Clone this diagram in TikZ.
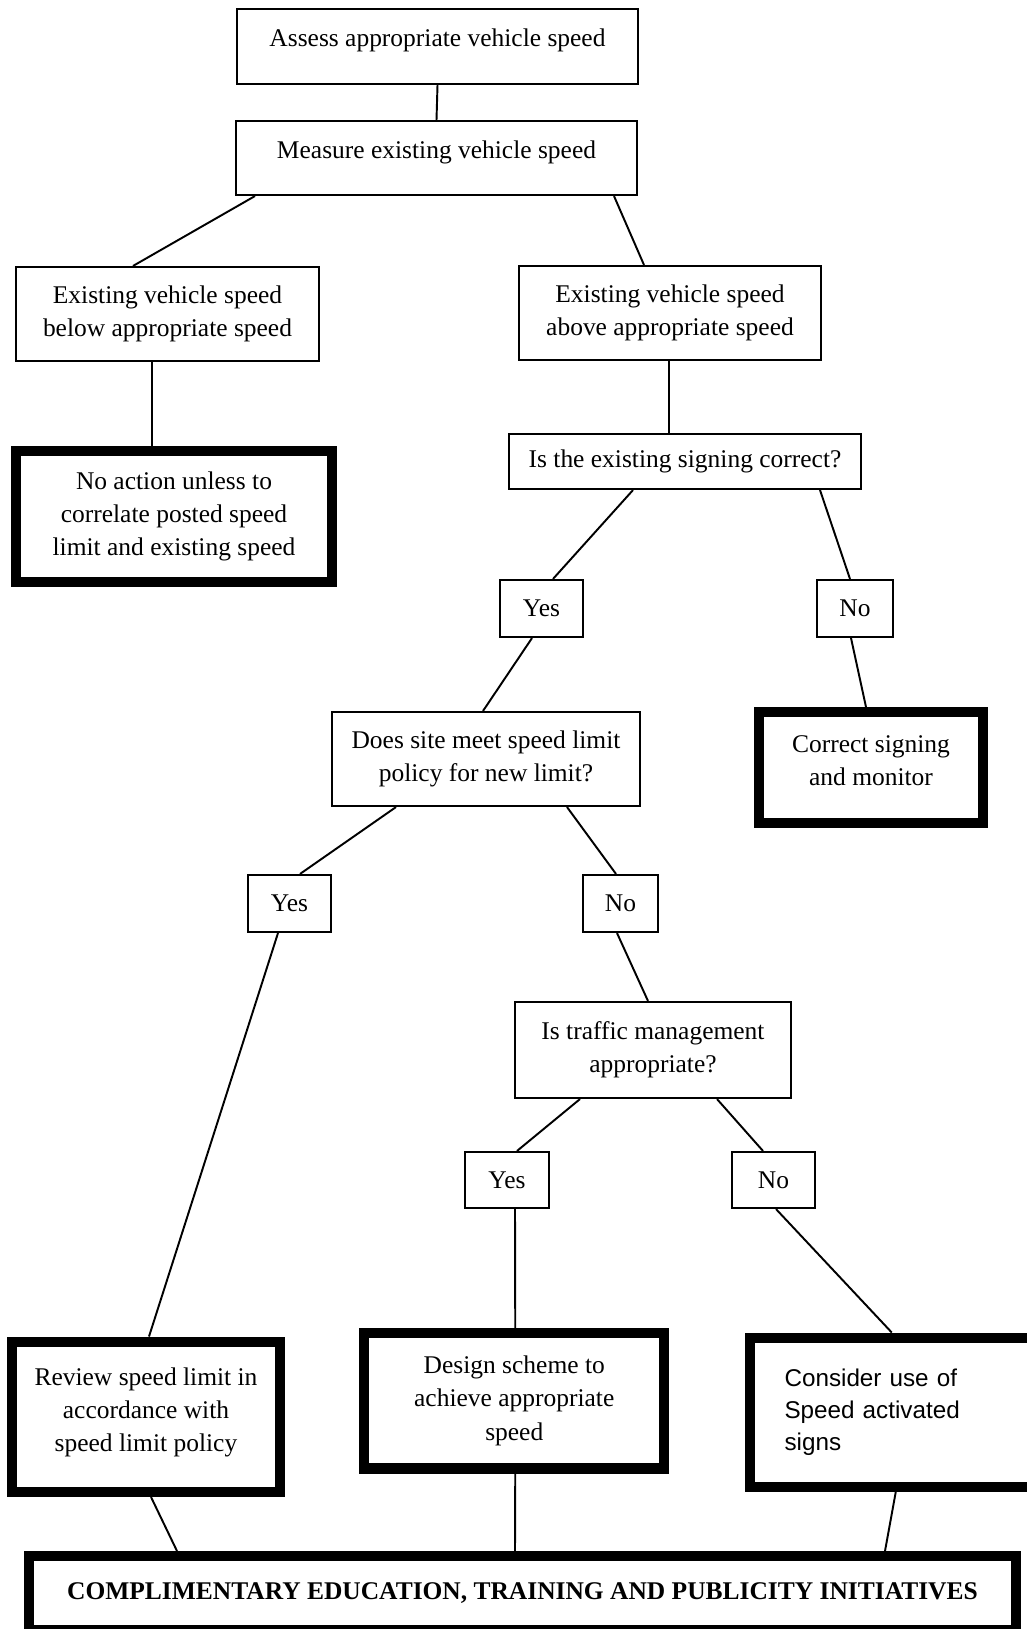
\documentclass[tikz,border=0pt]{standalone}
\usepackage{fontspec}
\setmainfont{Liberation Serif}
\newfontfamily\arialfont{Liberation Sans}
\usetikzlibrary{calc}
\tikzset{
  box/.style={draw, line width=1.2pt, fill=white, align=center, inner sep=4pt,
    font=\fontsize{14.5}{19}\selectfont},
  heavybox/.style={box, line width=5.7pt},
  link/.style={line width=1.1pt}
}
\begin{document}
\begin{tikzpicture}[x=0.02cm, y=-0.02cm]
\useasboundingbox (0,0) rectangle (1027,1629);
\node[box, minimum width=8.02cm, minimum height=1.5cm, text height=10pt, text depth=9.5pt] (assess) at (437.5,46.5) {Assess appropriate vehicle speed};
\node[box, minimum width=8.02cm, minimum height=1.48cm, text height=10pt, text depth=10pt] (measure) at (436.5,158) {Measure existing vehicle speed};
\node[box, minimum width=6.06cm, minimum height=1.88cm] (below) at (167.5,314) {Existing vehicle speed\\below appropriate speed};
\node[box, minimum width=6.04cm, minimum height=1.88cm] (above) at (670,313) {Existing vehicle speed\\above appropriate speed};
\node[heavybox, minimum width=6.31cm, minimum height=2.63cm] (noaction) at (174,516.5) {No action unless to\\correlate posted speed\\limit and existing speed};
\node[box, minimum width=7.04cm, minimum height=1.1cm] (signing) at (685,461.5) {Is the existing signing correct?};
\node[box, minimum width=1.66cm, minimum height=1.14cm] (yesA) at (541.5,608.5) {Yes};
\node[box, minimum width=1.52cm, minimum height=1.14cm] (noA) at (855,608.5) {No};
\node[box, minimum width=6.16cm, minimum height=1.88cm] (policy) at (486,759) {Does site meet speed limit\\policy for new limit?};
\node[heavybox, minimum width=4.5cm, minimum height=2.22cm, text depth=8pt] (correct) at (871,767.5) {Correct signing\\and monitor};
\node[box, minimum width=1.66cm, minimum height=1.14cm] (yesB) at (289.5,903.5) {Yes};
\node[box, minimum width=1.5cm, minimum height=1.14cm] (noB) at (620.5,903.5) {No};
\node[box, minimum width=5.52cm, minimum height=1.92cm] (traffic) at (653,1050) {Is traffic management\\appropriate?};
\node[box, minimum width=1.68cm, minimum height=1.12cm] (yesC) at (507,1180) {Yes};
\node[box, minimum width=1.66cm, minimum height=1.12cm] (noC) at (773.5,1180) {No};
\node[heavybox, minimum width=5.36cm, minimum height=3.01cm, text depth=8pt] (review) at (146,1416.75) {Review speed limit in\\accordance with\\speed limit policy};
\node[heavybox, minimum width=6.01cm, minimum height=2.71cm] (design) at (514.25,1400.75) {Design scheme to\\achieve appropriate\\speed};
\node[heavybox, minimum width=6.01cm, minimum height=2.99cm, align=left, inner xsep=0.7cm, text width=4.61cm,
  font=\arialfont\fontsize{13.8}{18}\selectfont] (consider) at (899.75,1412.25) {Consider use of\\Speed activated\\signs};
\node[heavybox, minimum width=19.74cm, minimum height=1.48cm, font=\bfseries\fontsize{14.5}{19}\selectfont] (bottom) at (522.5,1593) {COMPLIMENTARY EDUCATION, TRAINING AND PUBLICITY INITIATIVES};
\draw[link] (assess.south) -- (measure.north);
\draw[link] ($(measure.south)+(-181.5,0)$) -- ($(below.north)+(-34.5,0)$);
\draw[link] ($(measure.south)+(177.5,0)$) -- ($(above.north)+(-26,0)$);
\draw[link] ($(below.south)+(-15.5,0)$) -- ($(noaction.north)+(-22,0)$);
\draw[link] ($(above.south)+(-1,0)$) -- ($(signing.north)+(-16,0)$);
\draw[link] ($(signing.south)+(-52,0)$) -- ($(yesA.north)+(11.5,0)$);
\draw[link] ($(signing.south)+(135,0)$) -- ($(noA.north)+(-5,0)$);
\draw[link] ($(yesA.south)+(-9.5,0)$) -- ($(policy.north)+(-3,0)$);
\draw[link] ($(noA.south)+(-4,0)$) -- ($(correct.north)+(-5,0)$);
\draw[link] ($(policy.south)+(-90,0)$) -- ($(yesB.north)+(10.5,0)$);
\draw[link] ($(policy.south)+(81,0)$) -- ($(noB.north)+(-4.5,0)$);
\draw[link] ($(yesB.south)+(-11.5,0)$) -- ($(review.north)+(3,0)$);
\draw[link] ($(noB.south)+(-3.5,0)$) -- ($(traffic.north)+(-5,0)$);
\draw[link] ($(traffic.south)+(-73,0)$) -- ($(yesC.north)+(10,0)$);
\draw[link] ($(traffic.south)+(64,0)$) -- ($(noC.north)+(-10.5,0)$);
\draw[link] ($(yesC.south)+(8,0)$) -- ($(design.north)+(1,0)$);
\draw[link] ($(noC.south)+(2.5,0)$) -- ($(consider.north)+(-8,0)$);
\draw[link] ($(review.south)+(5,0)$) -- ($(bottom.north)+(-345.5,0)$);
\draw[link] ($(design.south)+(1,0)$) -- ($(bottom.north)+(-7.5,0)$);
\draw[link] ($(consider.south)+(-4,0)$) -- ($(bottom.north)+(362.5,0)$);
\end{tikzpicture}
\end{document}
